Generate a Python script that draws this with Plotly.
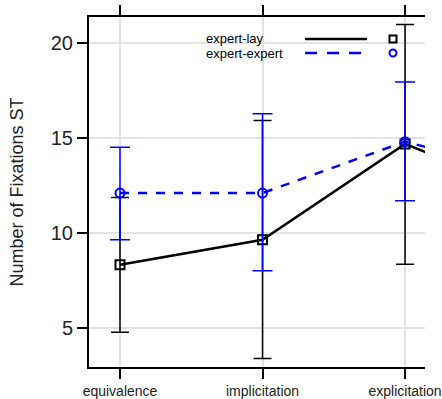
import plotly.graph_objects as go

categories = ["equivalence", "implicitation", "explicitation", ""]
lay_mean = [8.33, 9.65, 14.7, 11.7]
lay_upper = [11.88, 15.93, 21.0, None]
lay_lower = [4.77, 3.39, 8.36, None]
exp_mean = [12.11, 12.11, 14.82, 12.9]
exp_upper = [14.52, 16.29, 17.96, None]
exp_lower = [9.65, 8.01, 11.71, None]
yticks = [5, 10, 15, 20]

xs = list(range(len(categories)))

def err(mean, up, lo):
    plus = [(u - m) if u is not None else 0 for m, u in zip(mean, up)]
    minus = [(m - l) if l is not None else 0 for m, l in zip(mean, lo)]
    return plus, minus

lp, lm = err(lay_mean, lay_upper, lay_lower)
ep, em = err(exp_mean, exp_upper, exp_lower)

fig = go.Figure()
fig.add_trace(go.Scatter(
    x=xs, y=lay_mean, mode="lines+markers", name="expert-lay",
    line=dict(color="black", width=2.5),
    marker=dict(symbol="square-open", size=9, color="black", line=dict(width=2)),
    error_y=dict(type="data", symmetric=False, array=lp, arrayminus=lm,
                 color="black", thickness=1.5, width=9),
))
fig.add_trace(go.Scatter(
    x=xs, y=exp_mean, mode="lines+markers", name="expert-expert",
    line=dict(color="#0000ff", width=2.5, dash="dash"),
    marker=dict(symbol="circle-open", size=9, color="#0000ff", line=dict(width=2)),
    error_y=dict(type="data", symmetric=False, array=ep, arrayminus=em,
                 color="#0000ff", thickness=1.5, width=10),
))

W, H = 442, 399
L, R, T, B = 89, 17, 17, 32
pw, ph = W - L - R, H - T - B

def px(xp):
    return (xp - L) / pw

def py(yp):
    return (H - B - yp) / ph

shapes = []
annotations = []
# custom legend
leg = [("expert-lay", 39, "black", "solid", "square-open"),
       ("expert-expert", 53, "#0000ff", "dash", "circle-open")]
for name, yy, col, dash, sym in leg:
    annotations.append(dict(x=px(204), y=py(yy), xref="paper", yref="paper",
                            text=name, showarrow=False, xanchor="left", yanchor="middle",
                            font=dict(family="Liberation Sans, Arial", size=13, color="black")))
    if dash == "solid":
        shapes.append(dict(type="line", xref="paper", yref="paper",
                           x0=px(305), x1=px(367), y0=py(yy), y1=py(yy),
                           line=dict(color=col, width=2.5)))
    else:
        for s in [305, 327, 349]:
            shapes.append(dict(type="line", xref="paper", yref="paper",
                               x0=px(s), x1=px(s + 12), y0=py(yy), y1=py(yy),
                               line=dict(color=col, width=2.5)))
    if sym == "square-open":
        shapes.append(dict(type="rect", xref="paper", yref="paper",
                           x0=px(389.5), x1=px(396.5), y0=py(yy - 3.5), y1=py(yy + 3.5),
                           line=dict(color=col, width=2)))
    else:
        shapes.append(dict(type="circle", xref="paper", yref="paper",
                           x0=px(389.5), x1=px(396.5), y0=py(yy - 3.5), y1=py(yy + 3.5),
                           line=dict(color=col, width=2)))

fig.update_layout(
    width=W, height=H,
    margin=dict(l=L, r=R, t=T, b=B),
    plot_bgcolor="white", paper_bgcolor="white",
    showlegend=False,
    shapes=shapes, annotations=annotations,
    font=dict(family="Liberation Sans, Arial", color="#222222"),
    xaxis=dict(
        range=[-0.2175, 2.14], tickmode="array", tickvals=xs[:3], ticktext=categories[:3],
        showgrid=True, gridcolor="#e3e3e3", gridwidth=1.5,
        showline=True, linecolor="black", linewidth=2, mirror="ticks",
        ticks="outside", ticklen=10, tickwidth=2, tickcolor="black",
        tickfont=dict(size=14, color="#222222"), zeroline=False,
        automargin=False, ticklabelstandoff=0,
    ),
    yaxis=dict(
        range=[2.94, 21.39], tickmode="array", tickvals=yticks,
        showgrid=True, gridcolor="#e3e3e3", gridwidth=1.5,
        showline=True, linecolor="black", linewidth=2, mirror=False,
        ticks="outside", ticklen=10, tickwidth=2, tickcolor="black",
        tickfont=dict(size=20, color="#222222"), zeroline=False,
        automargin=False,
        title=dict(text="Number of Fixations ST", font=dict(size=18, color="#222222"), standoff=22),
    ),
)

fig.write_html("out.html")
